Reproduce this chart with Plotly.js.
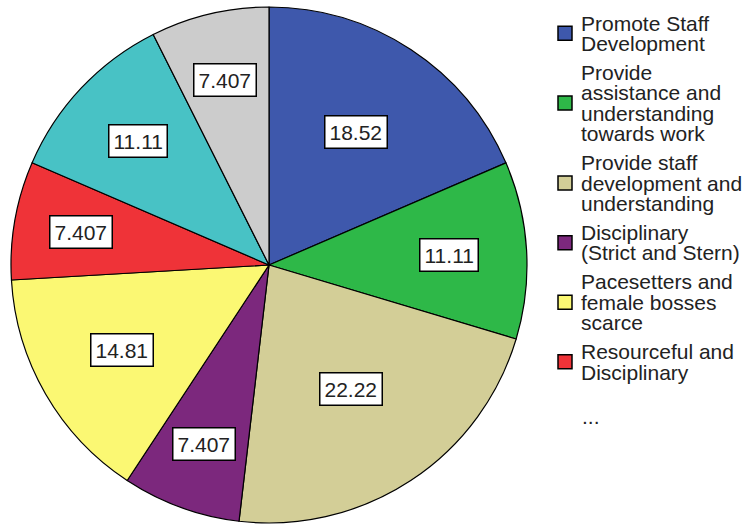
<!DOCTYPE html>
<html>
<head>
<meta charset="utf-8">
<script src="https://cdn.plot.ly/plotly-3.0.1.min.js"></script>
<style>html,body{margin:0;padding:0;background:#fff;}#chart{width:746px;height:527px;}</style>
</head>
<body>
<div id="chart"></div>
<script>
// ---- data ----
const categories = [
  "Promote Staff\nDevelopment",
  "Provide\nassistance and\nunderstanding\ntowards work",
  "Provide staff\ndevelopment and\nunderstanding",
  "Disciplinary\n(Strict and Stern)",
  "Pacesetters and\nfemale bosses\nscarce",
  "Resourceful and\nDisciplinary",
  "Category 7",
  "Category 8"
];
const percents = [18.52, 11.11, 22.22, 7.407, 14.81, 7.407, 11.11, 7.407];
const valueLabels = ["18.52", "11.11", "22.22", "7.407", "14.81", "7.407", "11.11", "7.407"];
const legendShown = 6; // items visible before the "..."

// ---- styles ----
const colors = ["#3E58AC", "#2EB848", "#D3CE97", "#7C287D", "#FBF873", "#EF3338", "#48C2C5", "#CCCCCC"];
const W = 746, H = 527;
const FONT = "Liberation Sans, Arial, sans-serif";
const cx = 269, cy = 265, R = 258;

const pie = {
  type: "pie",
  labels: categories.map(c => c.replace(/\n/g, " ")),
  values: percents,
  sort: false,
  direction: "clockwise",
  rotation: 0,
  textinfo: "none",
  hoverinfo: "skip",
  marker: { colors: colors, line: { color: "#000", width: 1.2 } },
  domain: { x: [(cx - R) / W, (cx + R) / W], y: [(H - cy - R) / H, (H - cy + R) / H] }
};

const annotations = [];
const shapes = [];

// value labels in boxes, placed along each slice's mid-angle
const total = percents.reduce((a, b) => a + b, 0);
let cum = 0;
percents.forEach((v, i) => {
  const mid = (cum + v / 2) / total * 2 * Math.PI;
  cum += v;
  const frac = 0.82 - 0.011 * v;
  const px = cx + frac * R * Math.sin(mid);
  const py = cy - frac * R * Math.cos(mid);
  annotations.push({
    xref: "paper", yref: "paper", x: px / W, y: 1 - py / H,
    xanchor: "center", yanchor: "middle", showarrow: false,
    text: valueLabels[i],
    font: { family: FONT, size: 21, color: "#222" },
    bgcolor: "#fff", bordercolor: "#000", borderwidth: 1.5, borderpad: 4
  });
});

// custom legend
const LINE = 20.5, GAP = 8.3, TOP = 23, SQX = 558, SQ = 14, TX = 579;
let y = TOP;
for (let i = 0; i < legendShown; i++) {
  const lines = categories[i].split("\n");
  const midY = y + (lines.length - 1) * LINE / 2;
  shapes.push({
    type: "rect", xref: "paper", yref: "paper",
    x0: SQX / W, x1: (SQX + SQ) / W, y0: 1 - (midY - SQ / 2) / H, y1: 1 - (midY + SQ / 2) / H,
    fillcolor: colors[i], line: { color: "#000", width: 1.5 }
  });
  lines.forEach((ln, k) => {
    annotations.push({
      xref: "paper", yref: "paper", x: TX / W, y: 1 - (y + k * LINE) / H,
      xanchor: "left", yanchor: "middle", showarrow: false,
      text: ln, font: { family: FONT, size: 21, color: "#222" }
    });
  });
  y += lines.length * LINE + GAP;
}
annotations.push({
  xref: "paper", yref: "paper", x: (TX + 1) / W, y: 1 - (y + 16) / H,
  xanchor: "left", yanchor: "middle", showarrow: false,
  text: "...", font: { family: FONT, size: 21, color: "#222" }
});

const layout = {
  width: W, height: H,
  margin: { l: 0, r: 0, t: 0, b: 0 },
  paper_bgcolor: "#fff",
  showlegend: false,
  annotations: annotations,
  shapes: shapes
};

Plotly.newPlot("chart", [pie], layout, { staticPlot: true, displayModeBar: false });
</script>
</body>
</html>
